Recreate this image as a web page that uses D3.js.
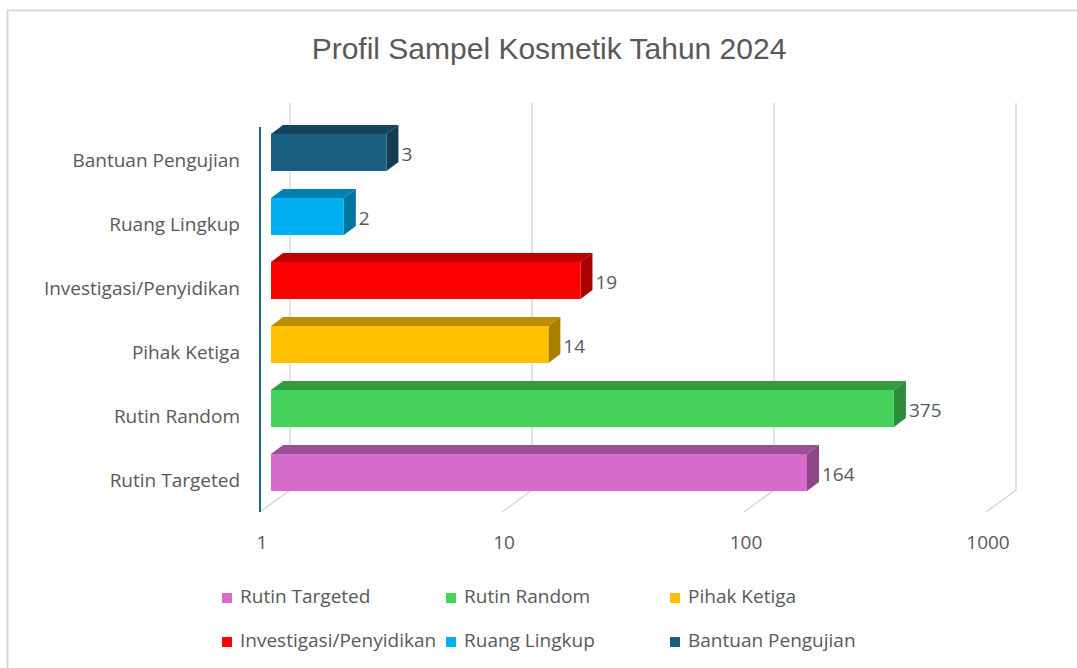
<!DOCTYPE html>
<html>
<head>
<meta charset="utf-8">
<script src="https://cdn.jsdelivr.net/npm/d3@7"></script>
<style>
  body { margin: 0; background: #fff; }
  text { fill: #595959; }
</style>
</head>
<body>
<svg id="chart" width="1077" height="668"></svg>
<script>
// categories top to bottom, as drawn
const categories = ["Bantuan Pengujian", "Ruang Lingkup", "Investigasi/Penyidikan", "Pihak Ketiga", "Rutin Random", "Rutin Targeted"];
const values = [3, 2, 19, 14, 375, 164];
const colors = ["#1A5E80", "#00B0F0", "#FF0000", "#FFC000", "#45D35B", "#D56BCB"];
const tickValues = [1, 10, 100, 1000];
const legendOrder = ["Rutin Targeted", "Rutin Random", "Pihak Ketiga", "Investigasi/Penyidikan", "Ruang Lingkup", "Bantuan Pengujian"];

const svg = d3.select("#chart");
const labelFont = "'Open Sans', Lato, sans-serif";

// chart border (only top and left edges show)
svg.append("path")
  .attr("d", "M7.5,668 L7.5,10.5 L1077,10.5")
  .attr("fill", "none")
  .attr("stroke", "#d9d9d9")
  .attr("stroke-width", 2);

svg.append("text")
  .attr("x", 549).attr("y", 59)
  .attr("text-anchor", "middle")
  .style("font-family", "'Liberation Sans', Arial, sans-serif")
  .style("font-size", "30px")
  .text("Profil Sampel Kosmetik Tahun 2024");

const x = d3.scaleLog().domain([1, 1000]).range([271, 997]);
const y = d3.scaleBand().domain(categories)
  .range([120.5, 504.5])
  .paddingInner(27 / 64)
  .paddingOuter(27 / 128);

// depth offsets
const backDx = 19, frontDx = -11, wallTop = 103, backY = 490, frontY = 512;
const barDx = 12, barDy = -9;

// gridlines on back wall + floor diagonals
const grid = svg.append("g");
tickValues.forEach(function (v) {
  grid.append("path")
    .attr("d", "M" + (x(v) + backDx) + "," + wallTop +
      " L" + (x(v) + backDx) + "," + backY +
      " L" + (x(v) + frontDx) + "," + frontY)
    .attr("fill", "none")
    .attr("stroke", "#d9d9d9")
    .attr("stroke-width", 1.5);
});

// category axis line
svg.append("line")
  .attr("x1", 260).attr("x2", 260)
  .attr("y1", 127).attr("y2", frontY)
  .attr("stroke", "#1F6684")
  .attr("stroke-width", 2);

// tick labels
svg.append("g").selectAll("text")
  .data(tickValues)
  .join("text")
  .attr("x", function (d) { return x(d) - 9; })
  .attr("y", 549)
  .attr("text-anchor", "middle")
  .style("font-family", labelFont)
  .style("font-size", "19px")
  .text(function (d) { return d; });

// category labels
svg.append("g").selectAll("text")
  .data(categories)
  .join("text")
  .attr("x", 240)
  .attr("y", function (d) { return y(d) + y.bandwidth() / 2 + 9; })
  .attr("text-anchor", "end")
  .attr("dominant-baseline", "middle")
  .style("font-family", labelFont)
  .style("font-size", "19px")
  .text(function (d) { return d; });

// 3d bars
const bars = svg.append("g").selectAll("g")
  .data(categories.map(function (c, i) { return { cat: c, value: values[i], color: colors[i] }; }))
  .join("g");

bars.each(function (d) {
  const g = d3.select(this);
  const x0 = x(1), x1 = x(d.value);
  const y0 = y(d.cat), y1 = y(d.cat) + y.bandwidth();
  const c = d3.color(d.color);
  // top face
  g.append("path")
    .attr("d", "M" + x0 + "," + y0 + " L" + (x0 + barDx) + "," + (y0 + barDy) +
      " L" + (x1 + barDx) + "," + (y0 + barDy) + " L" + x1 + "," + y0 + "Z")
    .attr("fill", c.darker(0.85));
  // right face
  g.append("path")
    .attr("d", "M" + x1 + "," + y0 + " L" + (x1 + barDx) + "," + (y0 + barDy) +
      " L" + (x1 + barDx) + "," + (y1 + barDy) + " L" + x1 + "," + y1 + "Z")
    .attr("fill", c.darker(1.15));
  // front face
  g.append("rect")
    .attr("x", x0).attr("y", y0)
    .attr("width", x1 - x0).attr("height", y1 - y0)
    .attr("fill", d.color);
  g.append("text")
    .attr("x", x1 + 15)
    .attr("y", (y0 + y1) / 2 + 3)
    .attr("dominant-baseline", "middle")
    .style("font-family", labelFont)
    .style("font-size", "19px")
    .text(d.value);
});

// legend
const legendX = [222, 446, 670];
const legendY = [598, 642];
const legend = svg.append("g").selectAll("g")
  .data(legendOrder)
  .join("g")
  .attr("transform", function (d, i) {
    return "translate(" + legendX[i % 3] + "," + legendY[Math.floor(i / 3)] + ")";
  });
legend.append("rect")
  .attr("x", 0).attr("y", -5)
  .attr("width", 10).attr("height", 10)
  .attr("fill", function (d) { return colors[categories.indexOf(d)]; });
legend.append("text")
  .attr("x", 18).attr("y", 0)
  .attr("dominant-baseline", "middle")
  .style("font-family", labelFont)
  .style("font-size", "19px")
  .text(function (d) { return d; });
</script>
</body>
</html>
